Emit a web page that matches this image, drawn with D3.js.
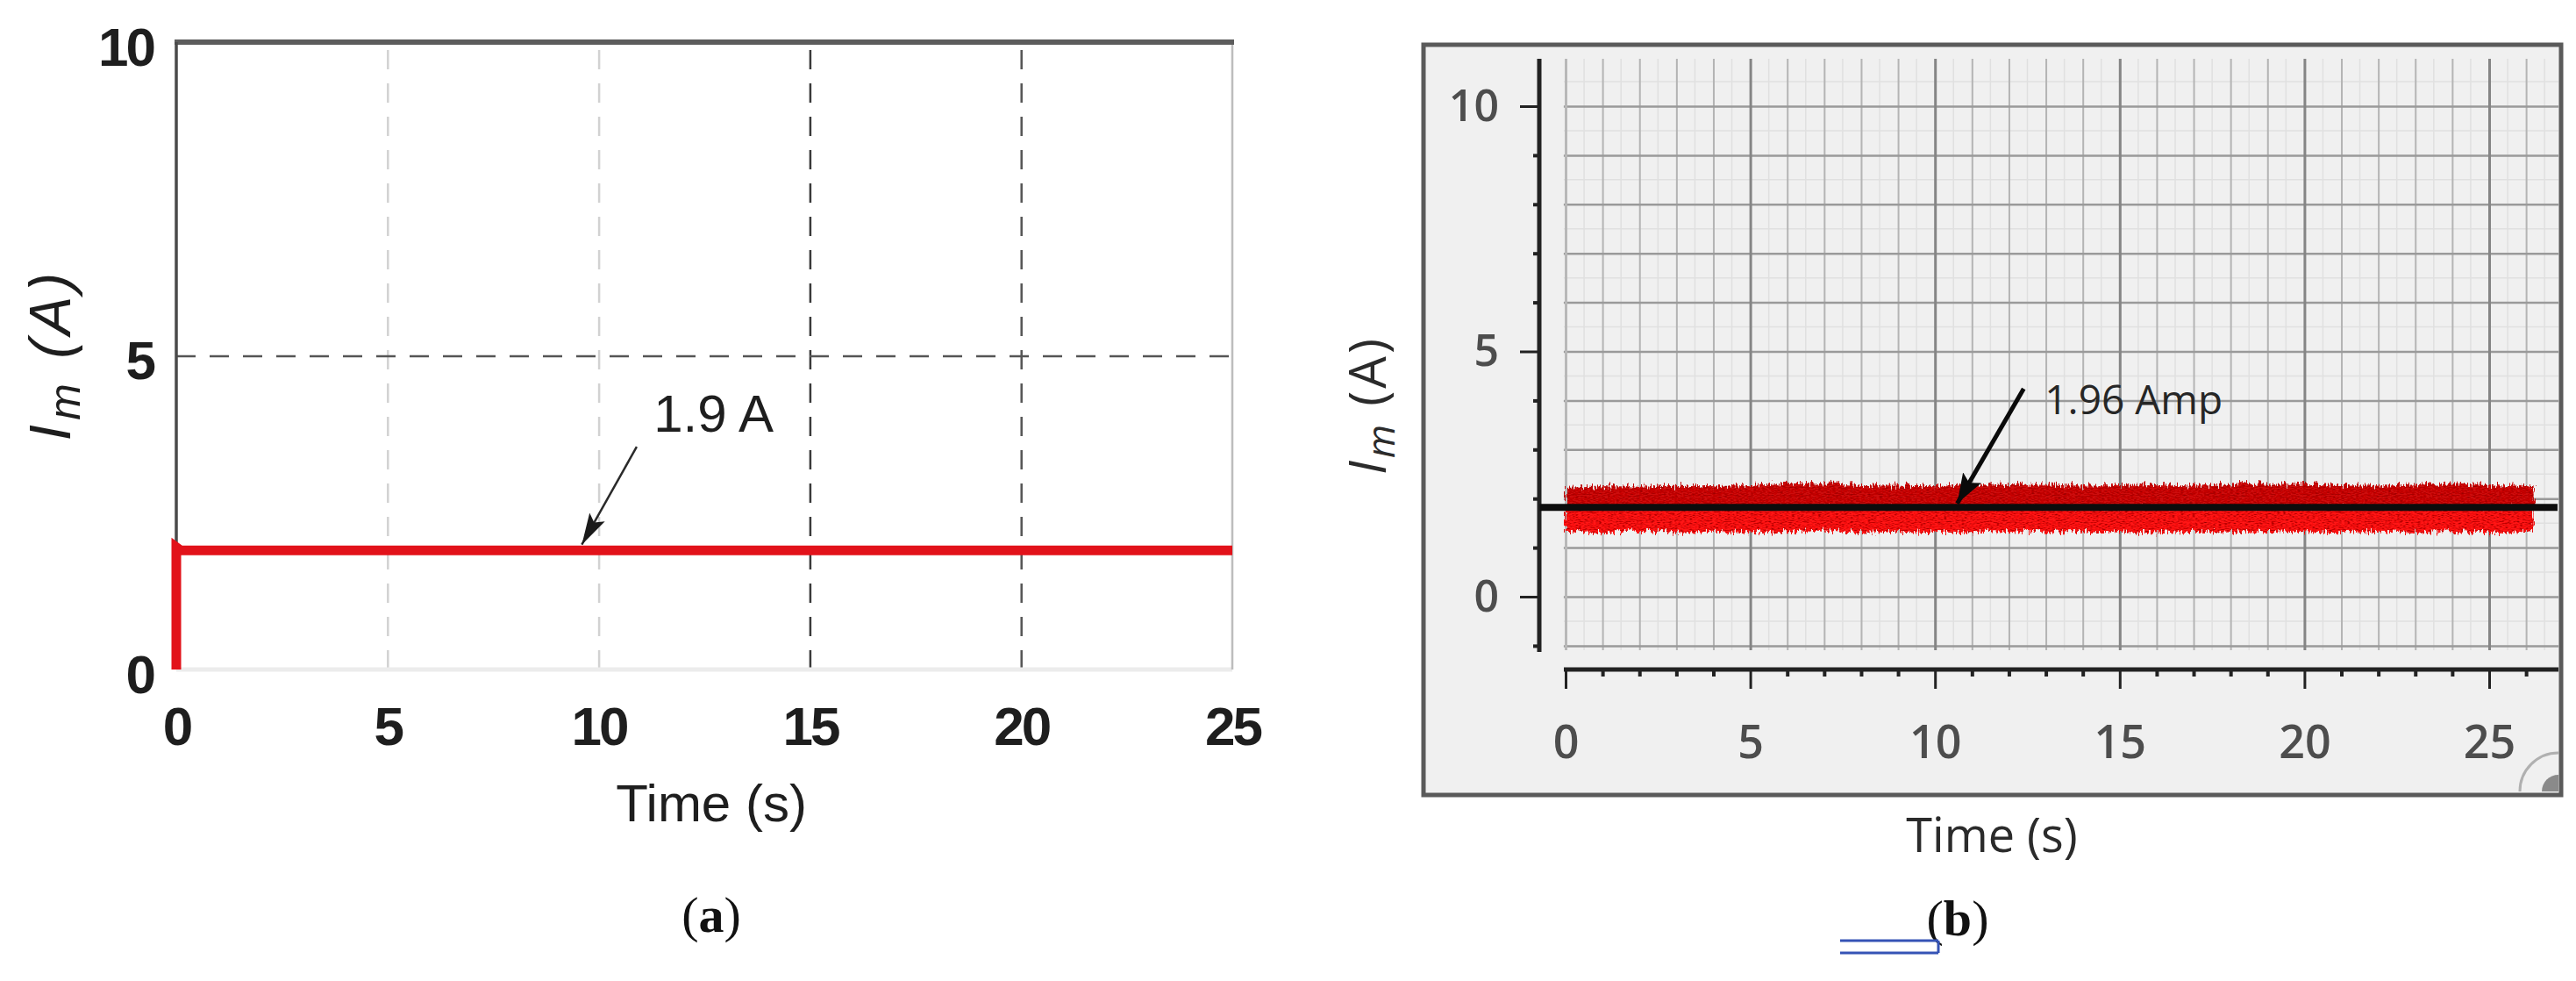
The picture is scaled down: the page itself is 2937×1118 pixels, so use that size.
<!DOCTYPE html>
<html lang="en">
<head>
<meta charset="UTF-8">
<title>Magnetising current: simulation (a) and measurement (b)</title>
<script src="https://cdnjs.cloudflare.com/ajax/libs/d3/7.8.5/d3.min.js"></script>
<style>
  body { margin: 0; background: #fff; }
  svg { display: block; }
</style>
</head>
<body>
<svg id="chart" width="2937" height="1118"></svg>
<script>
// ---------- values ----------
// (a) simulated current
const simTime = [0, 0, 0.1, 25];
const simCurrent = [0, 1.95, 1.9, 1.9];
const xTicksA = [0, 5, 10, 15, 20, 25];
const yTicksA = [0, 5, 10];

// (b) measured current, upper / lower edge of the noisy trace every second
const measTime = [0, 1, 2, 3, 4, 5, 6, 7, 8, 9, 10, 11, 12, 13, 14, 15, 16, 17, 18, 19, 20, 21, 22, 23, 24, 25, 26.2];
const measUpper = [2.22, 2.25, 2.24, 2.26, 2.25, 2.27, 2.31, 2.30, 2.27, 2.26, 2.25, 2.29, 2.27, 2.28, 2.26, 2.27, 2.29, 2.26, 2.28, 2.30, 2.29, 2.27, 2.26, 2.28, 2.30, 2.27, 2.25];
const measLower = [1.33, 1.30, 1.34, 1.31, 1.33, 1.30, 1.32, 1.35, 1.31, 1.33, 1.30, 1.32, 1.34, 1.31, 1.33, 1.32, 1.30, 1.33, 1.31, 1.34, 1.32, 1.30, 1.33, 1.31, 1.32, 1.30, 1.33];
const meanTime = [-0.7, 26.85];
const meanCurrent = [1.82, 1.82];
const xTicksB = [0, 5, 10, 15, 20, 25];
const yTicksB = [0, 5, 10];

// annotations, in data units
const noteA = { text: '1.9 A', at: [11.3, 4.1], tail: [10.9, 3.55], tip: [9.6, 1.99] };
const noteB = { text: '1.96 Amp', at: [12.97, 4.02], tail: [12.4, 4.24], tip: [10.6, 1.9] };

const svg = d3.select('#chart');
const defs = svg.append('defs');

function arrowHead(id, color, w, h) {
  defs.append('marker')
    .attr('id', id)
    .attr('viewBox', '0 0 10 10')
    .attr('preserveAspectRatio', 'none')
    .attr('refX', 10).attr('refY', 5)
    .attr('markerUnits', 'userSpaceOnUse')
    .attr('markerWidth', w).attr('markerHeight', h)
    .attr('orient', 'auto')
    .append('path').attr('d', 'M0,0 L10,5 L0,10 L2,5 z').attr('fill', color);
}
arrowHead('headA', '#1a1a1a', 36, 20);
arrowHead('headB', '#0a0a0a', 34, 24);

// rough edge + dark speckle for the measured trace
const noisy = defs.append('filter').attr('id', 'noisy')
  .attr('x', '-2%').attr('y', '-60%').attr('width', '104%').attr('height', '220%');
noisy.append('feTurbulence').attr('type', 'fractalNoise').attr('baseFrequency', '0.55 0.09')
  .attr('numOctaves', 2).attr('seed', 4).attr('result', 'warp');
noisy.append('feDisplacementMap').attr('in', 'SourceGraphic').attr('in2', 'warp').attr('scale', 16)
  .attr('xChannelSelector', 'R').attr('yChannelSelector', 'G').attr('result', 'jag');
noisy.append('feTurbulence').attr('type', 'fractalNoise').attr('baseFrequency', '0.3 1.1')
  .attr('numOctaves', 1).attr('seed', 9).attr('result', 'fine');
noisy.append('feColorMatrix').attr('in', 'fine').attr('type', 'matrix')
  .attr('values', '0 0 0 0 0.3  0 0 0 0 0  0 0 0 0 0  2.8 0 0 0 -1.25').attr('result', 'dark');
noisy.append('feComposite').attr('in', 'dark').attr('in2', 'jag').attr('operator', 'in').attr('result', 'darkIn');
const merge = noisy.append('feMerge');
merge.append('feMergeNode').attr('in', 'jag');
merge.append('feMergeNode').attr('in', 'darkIn');

// ================= panel (a) =================
const gA = svg.append('g');
const xA = d3.scaleLinear().domain([0, 25]).range([201, 1405]);
const yA = d3.scaleLinear().domain([0, 10]).range([763, 48]);
const fontA = "'Liberation Sans', Arial, sans-serif";

// dashed grid, shades as they appear in the scan
const gridShadeA = { 5: '#d2d2d2', 10: '#d2d2d2', 15: '#3a3a3a', 20: '#555' };
gA.append('g')
  .attr('transform', `translate(0,${yA(0)})`)
  .call(d3.axisBottom(xA).tickValues([5, 10, 15, 20]).tickSize(-(yA(0) - yA(10))).tickFormat(''))
  .call(g => g.select('.domain').remove())
  .selectAll('line')
  .attr('stroke', d => gridShadeA[d]).attr('stroke-width', 2.5).attr('stroke-dasharray', '22,16');
gA.append('g')
  .attr('transform', `translate(${xA(0)},0)`)
  .call(d3.axisLeft(yA).tickValues([5]).tickSize(-(xA(25) - xA(0))).tickFormat(''))
  .call(g => g.select('.domain').remove())
  .selectAll('line')
  .attr('stroke', '#555').attr('stroke-width', 2.5).attr('stroke-dasharray', '22,16');

// axes box
gA.append('line').attr('x1', xA(0)).attr('x2', xA(25)).attr('y1', yA(0)).attr('y2', yA(0))
  .attr('stroke', '#ececec').attr('stroke-width', 5);
gA.append('line').attr('x1', xA(25)).attr('x2', xA(25)).attr('y1', yA(10)).attr('y2', yA(0))
  .attr('stroke', '#bdbdbd').attr('stroke-width', 2.5);
gA.append('line').attr('x1', xA(0) - 2).attr('x2', xA(25) + 2).attr('y1', yA(10)).attr('y2', yA(10))
  .attr('stroke', '#5c5c5c').attr('stroke-width', 6);
gA.append('line').attr('x1', xA(0)).attr('x2', xA(0)).attr('y1', yA(10)).attr('y2', yA(0))
  .attr('stroke', '#4a4a4a').attr('stroke-width', 3.5);

// tick labels
gA.append('g')
  .attr('transform', `translate(0,${yA(0)})`)
  .call(d3.axisBottom(xA).tickValues(xTicksA).tickSize(0).tickPadding(42))
  .call(g => g.select('.domain').remove())
  .attr('font-family', fontA).attr('font-size', 62).attr('font-weight', 'bold')
  .selectAll('text').attr('fill', '#1e1e1e').attr('letter-spacing', -3);
gA.append('g')
  .attr('transform', `translate(${xA(0)},0)`)
  .call(d3.axisLeft(yA).tickValues(yTicksA).tickSize(0).tickPadding(26))
  .call(g => g.select('.domain').remove())
  .attr('font-family', fontA).attr('font-size', 62).attr('font-weight', 'bold')
  .selectAll('text').attr('fill', '#1e1e1e').attr('dy', '0.42em').attr('letter-spacing', -3);

// simulated trace
gA.append('path')
  .datum(d3.zip(simTime, simCurrent))
  .attr('d', d3.line().x(d => xA(d[0])).y(d => yA(d[1])))
  .attr('fill', 'none').attr('stroke', '#e2121a').attr('stroke-width', 11);

// annotation
gA.append('line')
  .attr('x1', xA(noteA.tail[0])).attr('y1', yA(noteA.tail[1]))
  .attr('x2', xA(noteA.tip[0])).attr('y2', yA(noteA.tip[1]))
  .attr('stroke', '#2a2a2a').attr('stroke-width', 2.5).attr('marker-end', 'url(#headA)');
gA.append('text')
  .attr('x', xA(noteA.at[0])).attr('y', yA(noteA.at[1]) + 22)
  .attr('font-family', fontA).attr('font-size', 60)
  .attr('fill', '#1e1e1e').text(noteA.text);

// axis titles
gA.append('text')
  .attr('x', 811).attr('y', 936).attr('text-anchor', 'middle')
  .attr('font-family', fontA).attr('font-size', 60)
  .attr('fill', '#1e1e1e').text('Time (s)');
const yLabA = gA.append('text')
  .attr('transform', 'translate(80,404) rotate(-90)').attr('text-anchor', 'middle')
  .attr('font-family', fontA).attr('font-size', 66).attr('letter-spacing', 5)
  .attr('font-style', 'italic').attr('fill', '#1e1e1e');
yLabA.append('tspan').text('I');
yLabA.append('tspan').attr('baseline-shift', '-22%').attr('font-size', 50).text('m');
yLabA.append('tspan').text(' (A)');

const capA = gA.append('text')
  .attr('x', 811).attr('y', 1062).attr('text-anchor', 'middle')
  .attr('font-family', "'Liberation Serif', 'Times New Roman', serif").attr('font-size', 58)
  .attr('fill', '#111');
capA.append('tspan').text('(');
capA.append('tspan').attr('font-weight', 'bold').text('a');
capA.append('tspan').text(')');

// ================= panel (b) =================
const gB = svg.append('g');
const xB = d3.scaleLinear().domain([0, 25]).range([1785, 2838]);
const yB = d3.scaleLinear().domain([0, 10]).range([680, 121]);
const fontB = "'Open Sans', 'Noto Sans', sans-serif";
const gridTop = 67, gridBottom = 741, gridRight = 2917, axisX = 1755, axisY = 763;

gB.append('rect')
  .attr('x', 1623).attr('y', 51).attr('width', 2920 - 1623).attr('height', 906 - 51)
  .attr('fill', '#f0f0f0').attr('stroke', '#5a5a5a').attr('stroke-width', 5);

// fine background grid
gB.append('g').selectAll('line')
  .data(d3.range(0, 26.9, 0.5).filter(v => v % 1 !== 0))
  .join('line')
  .attr('x1', d => xB(d)).attr('x2', d => xB(d)).attr('y1', gridTop).attr('y2', gridBottom)
  .attr('stroke', '#e0e0e0').attr('stroke-width', 1.5);
gB.append('g').selectAll('line')
  .data(d3.range(-1, 10.9, 0.5).filter(v => v % 1 !== 0))
  .join('line')
  .attr('x1', xB(-0.05)).attr('x2', gridRight).attr('y1', d => yB(d)).attr('y2', d => yB(d))
  .attr('stroke', '#e0e0e0').attr('stroke-width', 1.5);

// unit grid
gB.append('g')
  .attr('transform', `translate(0,${gridBottom})`)
  .call(d3.axisBottom(xB).tickValues(d3.range(1, 27).filter(v => v % 5 !== 0)).tickSize(-(gridBottom - gridTop)).tickFormat(''))
  .call(g => g.select('.domain').remove())
  .selectAll('line').attr('stroke', '#b4b4b4').attr('stroke-width', 2);
gB.append('g')
  .attr('transform', `translate(${xB(-0.05)},0)`)
  .call(d3.axisLeft(yB).tickValues(d3.range(-1, 11)).tickSize(-(gridRight - xB(-0.05))).tickFormat(''))
  .call(g => g.select('.domain').remove())
  .selectAll('line').attr('stroke', '#9a9a9a').attr('stroke-width', 2.5);
gB.append('g')
  .attr('transform', `translate(0,${gridBottom})`)
  .call(d3.axisBottom(xB).tickValues(xTicksB).tickSize(-(gridBottom - gridTop)).tickFormat(''))
  .call(g => g.select('.domain').remove())
  .selectAll('line')
  .attr('stroke', d => d === 0 ? '#b8b8b8' : '#858585').attr('stroke-width', 3);

// axes
const yAxisB = gB.append('g').attr('transform', `translate(${axisX},0)`);
yAxisB.append('line').attr('y1', gridTop).attr('y2', gridBottom + 2)
  .attr('stroke', '#222').attr('stroke-width', 5);
yAxisB.append('g')
  .call(d3.axisLeft(yB).tickValues(d3.range(-1, 11).filter(v => v % 5 !== 0)).tickSize(7).tickFormat(''))
  .call(g => g.select('.domain').remove())
  .selectAll('line').attr('stroke', '#222').attr('stroke-width', 4);
yAxisB.append('g')
  .call(d3.axisLeft(yB).tickValues(yTicksB).tickSize(22).tickPadding(24))
  .call(g => g.select('.domain').remove())
  .attr('font-family', fontB).attr('font-size', 50).attr('font-weight', 600)
  .call(g => g.selectAll('line').attr('stroke', '#222').attr('stroke-width', 3))
  .selectAll('text').attr('fill', '#4d4d4d');

const xAxisB = gB.append('g').attr('transform', `translate(0,${axisY})`);
xAxisB.append('line').attr('x1', xB(0) - 2).attr('x2', gridRight)
  .attr('stroke', '#222').attr('stroke-width', 5);
xAxisB.append('g')
  .call(d3.axisBottom(xB).tickValues(d3.range(1, 27).filter(v => v % 5 !== 0)).tickSize(8).tickFormat(''))
  .call(g => g.select('.domain').remove())
  .selectAll('line').attr('stroke', '#222').attr('stroke-width', 4);
xAxisB.append('g')
  .call(d3.axisBottom(xB).tickValues(xTicksB).tickSize(22).tickPadding(42))
  .call(g => g.select('.domain').remove())
  .attr('font-family', fontB).attr('font-size', 52).attr('font-weight', 600)
  .call(g => g.selectAll('line').attr('stroke', '#222').attr('stroke-width', 3))
  .selectAll('text').attr('fill', '#4d4d4d');

// measured trace
const measRows = measTime.map((t, i) => ({ t, hi: measUpper[i], lo: measLower[i] }));
const mid = meanCurrent[0];
const band = gB.append('g').attr('filter', 'url(#noisy)');
band.append('path').datum(measRows)
  .attr('d', d3.area().x(d => xB(d.t)).y0(yB(mid)).y1(d => yB(d.lo)))
  .attr('fill', '#ff1414');
band.append('path').datum(measRows)
  .attr('d', d3.area().x(d => xB(d.t)).y0(d => yB(d.hi)).y1(yB(mid)))
  .attr('fill', '#cc0c0c');

gB.append('path')
  .datum(d3.zip(meanTime, meanCurrent))
  .attr('d', d3.line().x(d => xB(d[0])).y(d => yB(d[1])))
  .attr('stroke', '#0c0c0c').attr('stroke-width', 8);

// annotation
gB.append('line')
  .attr('x1', xB(noteB.tail[0])).attr('y1', yB(noteB.tail[1]))
  .attr('x2', xB(noteB.tip[0])).attr('y2', yB(noteB.tip[1]))
  .attr('stroke', '#0a0a0a').attr('stroke-width', 5).attr('marker-end', 'url(#headB)');
gB.append('text')
  .attr('x', xB(noteB.at[0])).attr('y', yB(noteB.at[1]) + 17)
  .attr('font-family', fontB).attr('font-size', 46)
  .attr('fill', '#262626').text(noteB.text);

// resize grip in the corner of the scope window
gB.append('path')
  .attr('d', 'M2873,902 A44,44 0 0 1 2917,858')
  .attr('fill', 'none').attr('stroke', '#b0b0b0').attr('stroke-width', 3);
gB.append('path')
  .attr('d', 'M2898,902 A19,19 0 0 1 2917,883 L2917,902 Z')
  .attr('fill', '#8a8a8a');

// axis titles
gB.append('text')
  .attr('x', 2271).attr('y', 971).attr('text-anchor', 'middle')
  .attr('font-family', fontB).attr('font-size', 54)
  .attr('fill', '#2b2b2b').text('Time (s)');
const yLabB = gB.append('text')
  .attr('transform', 'translate(1580,462) rotate(-90)').attr('text-anchor', 'middle')
  .attr('font-family', fontB).attr('font-size', 58).attr('letter-spacing', 3).attr('fill', '#2b2b2b');
yLabB.append('tspan').attr('font-style', 'italic').text('I');
yLabB.append('tspan').attr('font-style', 'italic').attr('baseline-shift', '-22%').attr('font-size', 44).text('m');
yLabB.append('tspan').text(' (A)');

const capB = gB.append('text')
  .attr('x', 2232).attr('y', 1066).attr('text-anchor', 'middle')
  .attr('font-family', "'Liberation Serif', 'Times New Roman', serif").attr('font-size', 58)
  .attr('fill', '#111');
capB.append('tspan').text('(');
capB.append('tspan').attr('font-weight', 'bold').text('b');
capB.append('tspan').text(')');

// blue double rule under the caption
const rule = gB.append('g').attr('stroke', '#3553b5').attr('stroke-width', 3).attr('fill', 'none');
rule.append('line').attr('x1', 2098).attr('x2', 2210).attr('y1', 1072).attr('y2', 1072);
rule.append('line').attr('x1', 2098).attr('x2', 2210).attr('y1', 1086).attr('y2', 1086);
rule.append('line').attr('x1', 2210).attr('x2', 2210).attr('y1', 1072).attr('y2', 1086);
</script>
</body>
</html>
